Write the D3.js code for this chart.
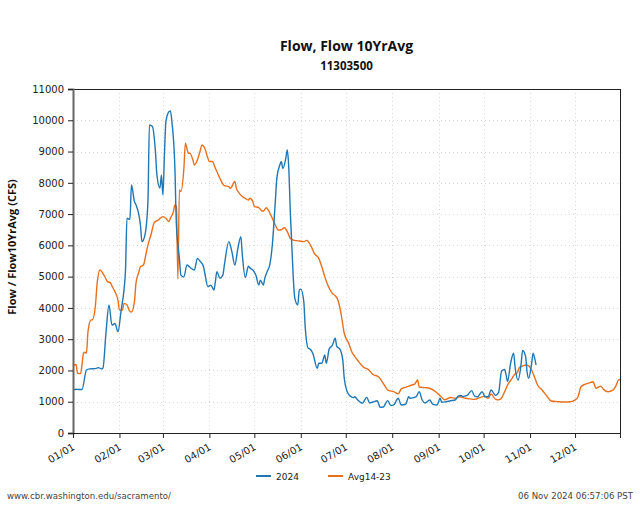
<!DOCTYPE html>
<html>
<head>
<meta charset="utf-8">
<script src="https://cdn.jsdelivr.net/npm/d3@7"></script>
<style>
  body { margin: 0; background: #fff; }
  svg { display: block; }
</style>
</head>
<body>
<svg id="chart" width="640" height="530"></svg>
<script>
// ---- data (day offset from 2024-01-01, flow in CFS) ----
const flow2024Days = [0,2,4,6,9,11,15,17,19,20,22,24,26,28,30,32,35,36,38,39,41,42,45,46,48,50,51,53,55,56,58,59,60,61,62,64,65,66,68,69,71,72,74,76,79,81,83,85,87,88,90,92,94,95,96,98,100,101,104,106,108,110,112,113,115,117,118,120,122,124,125,127,128,130,131,133,135,136,138,139,140,142,143,144,145,146,147,148,150,151,152,154,155,157,158,160,163,164,166,168,169,171,173,175,176,178,180,181,183,185,187,188,190,193,196,198,200,203,205,207,210,212,214,217,219,222,224,225,227,229,231,233,235,238,240,243,245,246,249,252,255,257,259,260,263,266,268,270,273,275,277,279,282,284,286,288,289,290,292,294,295,297,299,300,302,303,304,306,307,308,309];
const flow2024Values = [1380,1400,1390,1390,2015,2050,2060,2090,2050,2080,3200,4093,3450,3500,3240,3880,5160,6865,6830,7930,7400,7300,6650,6120,6330,7400,9850,9800,9000,8250,7830,8250,7610,8890,9955,10275,10300,9955,8465,6650,5585,5050,4990,5370,5260,5210,5585,5480,5330,5100,4680,4730,4570,4840,5160,4950,5050,5370,6120,5800,5370,5900,6280,5690,4970,5330,5280,5210,5050,4730,4890,4730,4950,5210,5320,6010,7400,8140,8570,8680,8460,8780,9050,8460,7080,6010,4950,4310,4095,4570,4600,4200,3350,2710,2690,2550,2070,2230,2230,2495,2230,2690,2800,3030,2770,2690,2340,1750,1320,1180,1130,1160,1055,950,1140,960,990,1030,820,830,1035,880,900,1110,895,920,1160,1110,1130,1160,1320,1055,960,1055,925,895,1110,980,1000,1030,1055,1180,1200,1170,1200,1355,1180,1160,1320,1160,1160,1375,1200,1300,1980,2030,1850,1650,2230,2550,2100,1695,2200,2640,2450,1950,1750,2200,2550,2400,2175];

const avgDays = [0,2,3,5,6,7,8,9,10,12,13,15,16,18,20,21,23,25,26,28,30,31,33,34,36,38,39,41,42,44,45,47,49,50,52,54,55,57,58,60,62,64,65,67,68,69,70,71,72,74,75,77,78,80,81,83,85,86,88,90,91,93,95,96,98,100,101,104,105,108,109,111,113,115,117,118,120,121,124,126,127,129,130,133,135,137,139,141,143,145,147,149,151,154,156,157,159,161,164,166,168,170,173,175,177,179,181,184,186,188,190,194,197,200,204,207,210,214,217,219,223,226,228,230,231,235,238,242,245,248,252,255,258,262,265,268,272,275,277,279,282,284,286,288,290,293,295,296,298,300,302,304,306,308,310,313,316,319,324,328,332,335,337,339,342,345,347,349,352,354,357,360,362,364,365];
const avgValues = [2150,2190,1910,1900,2175,2550,2580,2550,3240,3615,3620,4095,4730,5210,5100,5020,4840,4800,4700,4520,4250,3930,3930,4145,4100,3880,3870,4200,4785,5160,5320,5370,5800,6010,6330,6705,6760,6810,6860,6920,6865,6760,6865,7080,7290,7250,4925,7770,7720,8465,9265,8945,8950,8730,8570,8730,9050,9210,9100,8785,8680,8680,8465,8360,8145,7960,7910,7880,7825,8040,7830,7665,7560,7505,7450,7505,7400,7240,7210,7100,7100,7205,7150,6865,6650,6490,6500,6565,6440,6225,6170,6150,6140,6120,6160,6120,5960,5745,5585,5320,5000,4730,4465,4390,4220,3775,3190,2870,2600,2450,2320,2100,2035,1880,1790,1590,1375,1320,1250,1410,1480,1535,1565,1695,1470,1450,1430,1320,1190,1065,1135,1110,1160,1110,1090,1075,1140,1180,1110,1245,1075,1060,1120,1320,1535,1750,1890,1900,2100,2140,2175,2150,2015,1780,1535,1375,1195,1025,1000,990,1000,1055,1160,1480,1565,1610,1640,1430,1500,1395,1320,1360,1480,1695,1710];

const seriesNames = ["2024", "Avg14-23"];
const yTicks = [0,1000,2000,3000,4000,5000,6000,7000,8000,9000,10000,11000];
const titleText = "Flow, Flow 10YrAvg";
const subtitleText = "11303500";
const yLabelText = "Flow / Flow10YrAvg (CFS)";
const footerLeft = "www.cbr.washington.edu/sacramento/";
const footerRight = "06 Nov 2024 06:57:06 PST";

// ---- layout ----
const m = { left: 73, right: 620, top: 89, bottom: 433 };
const colors = ["#1f77b4", "#e8701c"];

const svg = d3.select("#chart");
const start = new Date(2024, 0, 1);
const end = new Date(2024, 11, 31);

const x = d3.scaleTime().domain([start, end]).range([m.left, m.right]);
const y = d3.scaleLinear().domain([0, 11000]).range([m.bottom, m.top]);

const toDate = d => d3.timeDay.offset(start, d);
const s1 = flow2024Days.map((d, i) => ({ date: toDate(d), v: flow2024Values[i] }));
const s2 = avgDays.map((d, i) => ({ date: toDate(d), v: avgValues[i] }));

const monthTicks = d3.timeMonth.range(start, end);

// gridlines
const grid = svg.append("g").attr("stroke", "#d9d9d9").attr("stroke-width", 1)
  .attr("stroke-dasharray", "1,3");
grid.selectAll("line.gy").data(yTicks.slice(1, -1)).join("line")
  .attr("x1", m.left).attr("x2", m.right)
  .attr("y1", d => Math.round(y(d)) + 0.5).attr("y2", d => Math.round(y(d)) + 0.5);
grid.selectAll("line.gx").data(monthTicks.slice(1)).join("line")
  .attr("x1", d => Math.round(x(d)) + 0.5).attr("x2", d => Math.round(x(d)) + 0.5)
  .attr("y1", m.top).attr("y2", m.bottom);

// lines
const line = d3.line().x(d => x(d.date)).y(d => y(d.v)).curve(d3.curveMonotoneX);
svg.append("path").datum(s2).attr("fill", "none").attr("stroke", colors[1])
  .attr("stroke-width", 1.4).attr("d", line);
svg.append("path").datum(s1).attr("fill", "none").attr("stroke", colors[0])
  .attr("stroke-width", 1.4).attr("d", line);

// frame
svg.append("rect").attr("x", m.left + 0.5).attr("y", m.top + 0.5)
  .attr("width", m.right - m.left).attr("height", m.bottom - m.top)
  .attr("fill", "none").attr("stroke", "#222").attr("stroke-width", 1);

// axes
const yAxis = svg.append("g").attr("transform", `translate(${m.left},0)`)
  .call(d3.axisLeft(y).tickValues(yTicks).tickSize(5).tickPadding(4).tickFormat(d3.format("d")));
yAxis.select(".domain").attr("stroke", "#666").attr("stroke-width", 2);
yAxis.selectAll(".tick line").attr("stroke", "#222");
yAxis.selectAll("text").attr("font-family", "DejaVu Sans").attr("font-size", 10).attr("fill", "#222");

const xAxis = svg.append("g").attr("transform", `translate(0,${m.bottom})`)
  .call(d3.axisBottom(x).tickValues(monthTicks).tickSize(5).tickFormat(d3.timeFormat("%m/%d")));
xAxis.select(".domain").attr("stroke", "#222");
xAxis.selectAll(".tick line").attr("stroke", "#222");
xAxis.selectAll("text").attr("font-family", "DejaVu Sans").attr("font-size", 10).attr("fill", "#222")
  .attr("text-anchor", "end").attr("dy", null).attr("y", 0)
  .attr("transform", "translate(2,16) rotate(-30)");

// titles
svg.append("text").attr("x", (m.left + m.right) / 2).attr("y", 51).attr("text-anchor", "middle")
  .attr("font-family", "Open Sans").attr("font-weight", "bold").attr("font-size", 14)
  .attr("fill", "#111").text(titleText);
svg.append("text").attr("x", (m.left + m.right) / 2).attr("y", 70).attr("text-anchor", "middle")
  .attr("font-family", "Open Sans").attr("font-weight", "bold").attr("font-size", 11.5)
  .attr("fill", "#111").text(subtitleText);
svg.append("text").attr("transform", "translate(16,247) rotate(-90)").attr("text-anchor", "middle")
  .attr("font-family", "Open Sans").attr("font-weight", "bold").attr("font-size", 11)
  .attr("fill", "#111").text(yLabelText);

// legend
const legend = svg.append("g").attr("transform", "translate(0,476)");
const legX = [256, 328];
seriesNames.forEach((n, i) => {
  legend.append("line").attr("x1", legX[i]).attr("x2", legX[i] + 15).attr("y1", 0).attr("y2", 0)
    .attr("stroke", colors[i]).attr("stroke-width", 2);
  legend.append("text").attr("x", legX[i] + 20).attr("y", 3.5)
    .attr("font-family", "DejaVu Sans").attr("font-size", 9).attr("fill", "#222").text(n);
});

// footer
svg.append("text").attr("x", 7).attr("y", 499).attr("font-family", "DejaVu Sans")
  .attr("font-size", 8.6).attr("fill", "#444").text(footerLeft);
svg.append("text").attr("x", 633).attr("y", 499).attr("text-anchor", "end").attr("font-family", "DejaVu Sans")
  .attr("font-size", 8.6).attr("fill", "#444").text(footerRight);
</script>
</body>
</html>
